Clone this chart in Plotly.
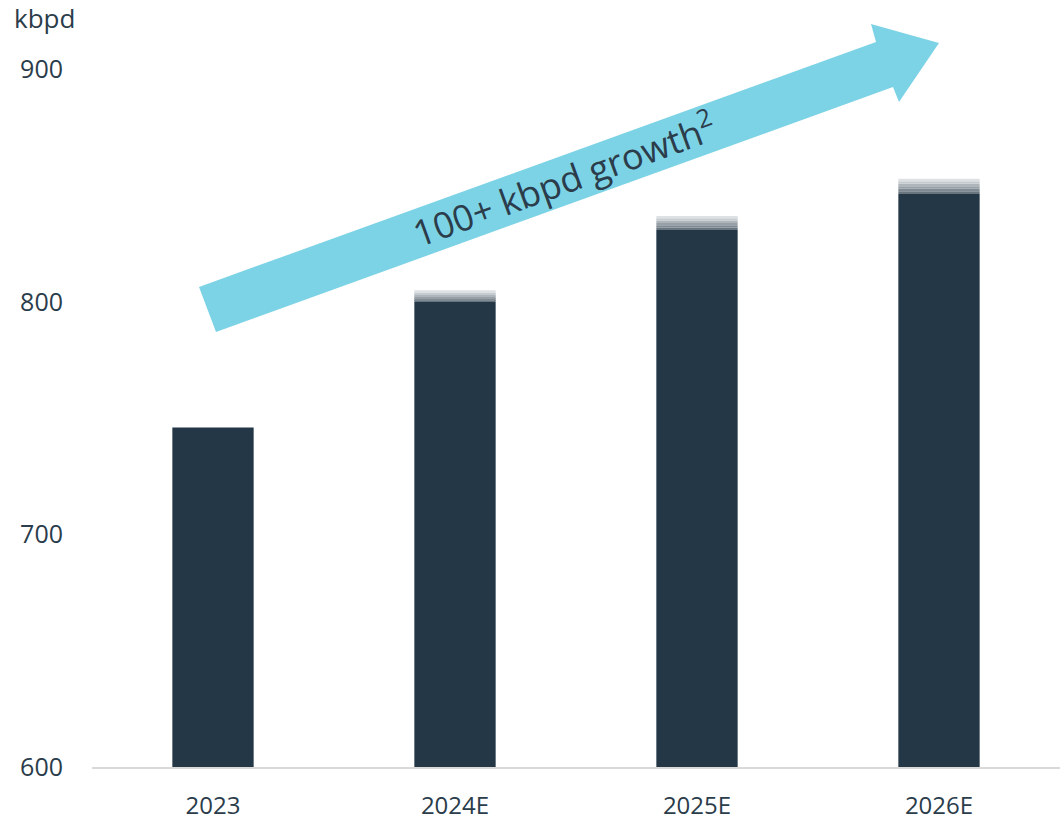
import plotly.graph_objects as go

# Production outlook (kbpd)
categories = ["2023", "2024E", "2025E", "2026E"]
low_values = [746, 800, 831, 846.5]     # solid part of each bar
high_values = [746, 805, 837, 853]      # top of the guidance range
y_ticks = [600, 700, 800, 900]
growth_label = "100+ kbpd growth<sup>2</sup>"
unit_label = "kbpd"

BAR = (36, 55, 70)
TEXT = "#2b3c4b"
ARROW = "#7dd3e6"
FONT = "Open Sans"

W, H = 1061, 823
ML, MR, MT, MB = 92, 1, 23, 56
PW, PH = W - ML - MR, H - MT - MB


def px(x, y):
    """Pixel position -> paper coordinates."""
    return (x - ML) / PW, (H - MB - y) / PH


def blend(c, t):
    r, g, b = (round(v + (255 - v) * t) for v in c)
    return f"rgb({r},{g},{b})"


fig = go.Figure()

# solid bars
fig.add_trace(go.Bar(
    x=categories, y=low_values, marker_color=blend(BAR, 0),
    marker_line_width=0, width=0.336, hoverinfo="x+y", showlegend=False,
))

# faded cap showing the range between low and high
steps = 6
for k in range(steps):
    seg = [(h - l) / steps for l, h in zip(low_values, high_values)]
    base = [l + k * s for l, s in zip(low_values, seg)]
    t = 0.2 + 0.65 * (k + 1) / steps
    fig.add_trace(go.Bar(
        x=categories, y=seg, base=base, marker_color=blend(BAR, t),
        marker_line_width=0, width=0.336, hoverinfo="skip", showlegend=False,
    ))

# growth arrow
pts = [(199, 287), (876, 42), (871, 24), (939, 43), (899, 102), (893, 87), (216, 332)]
path = "M " + " L ".join(f"{px(x, y)[0]:.5f},{px(x, y)[1]:.5f}" for x, y in pts) + " Z"
fig.add_shape(type="path", path=path, xref="paper", yref="paper",
              fillcolor=ARROW, line_width=0, layer="below")

tx, ty = px(563, 178)
fig.add_annotation(text=growth_label, x=tx, y=ty, xref="paper", yref="paper",
                   showarrow=False, textangle=-20,
                   xanchor="center", yanchor="middle",
                   font=dict(family=FONT, size=36, color=TEXT))

ux, uy = px(12, 18)
fig.add_annotation(text=unit_label, x=ux, y=uy, xref="paper", yref="paper",
                   xanchor="left", yanchor="middle", showarrow=False,
                   font=dict(family=FONT, size=26, color=TEXT))

fig.update_layout(
    width=W, height=H,
    margin=dict(l=ML, r=MR, t=MT, b=MB, pad=0),
    paper_bgcolor="white", plot_bgcolor="white",
    barmode="overlay", bargap=0.66,
    font=dict(family=FONT, size=24, color=TEXT),
    xaxis=dict(
        showgrid=False, showline=True, linecolor="#d9d9d9", linewidth=2,
        ticks="", tickfont=dict(size=24, color=TEXT), ticklabelstandoff=16,
        automargin=False, fixedrange=True,
    ),
    yaxis=dict(
        range=[600, 920], tickvals=y_ticks, showgrid=False, zeroline=False,
        showline=False, ticks="", tickfont=dict(size=25, color=TEXT),
        ticklabelstandoff=28, automargin=False, fixedrange=True,
    ),
)

fig.write_html("out.html", config={"displayModeBar": False})
